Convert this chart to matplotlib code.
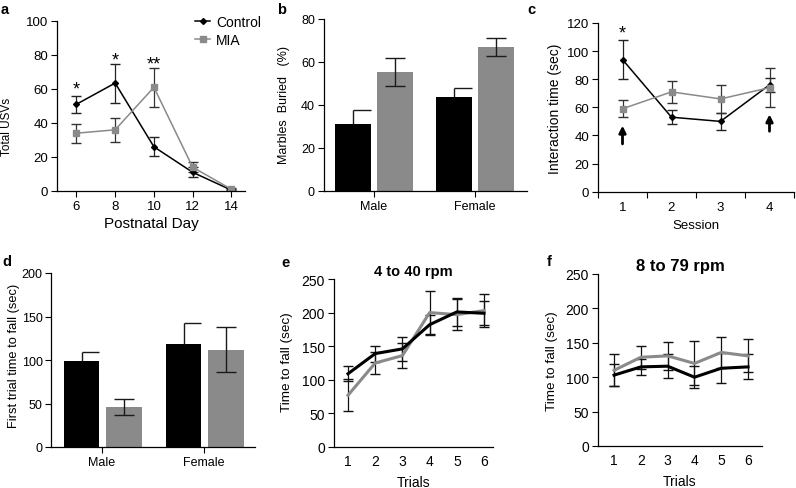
import numpy as np
import matplotlib.pyplot as plt
from matplotlib.lines import Line2D

# ---- data ----
# a: USVs
days = [6, 8, 10, 12, 14]
usv_ctrl = [51, 63.5, 26, 11, 0.5]
usv_ctrl_err = [5, 11.5, 5.5, 3, 0.5]
usv_mia = [34, 36, 61, 14, 1]
usv_mia_err = [5.5, 7, 11.5, 3, 0.5]

# b: marbles buried
sexes = ['Male', 'Female']
marb_ctrl = [31, 43.5]
marb_ctrl_err = [6.5, 4.5]
marb_mia = [55.5, 67]
marb_mia_err = [6.5, 4]

# c: social interaction
sessions = [1, 2, 3, 4]
inter_ctrl = [94, 53, 50, 76]
inter_ctrl_err = [14, 5, 6, 5]
inter_mia = [59, 71, 66, 74]
inter_mia_err = [6, 8, 10, 14]

# d: first trial time to fall
fall_ctrl = [99, 118]
fall_ctrl_err = [10, 25]
fall_mia = [46, 112]
fall_mia_err = [9, 26]

# e: rotarod 4-40 rpm
trials = [1, 2, 3, 4, 5, 6]
rr40_ctrl = [109, 139, 146, 182, 201, 199]
rr40_ctrl_err = [11, 12, 18, 15, 21, 18]
rr40_mia = [77, 125, 136, 200, 197, 203]
rr40_mia_err = [24, 17, 19, 32, 23, 24]

# f: rotarod 8-79 rpm
rr79_ctrl = [103, 115, 116, 100, 113, 115]
rr79_ctrl_err = [16, 12, 17, 16, 22, 18]
rr79_mia = [110, 129, 131, 120, 136, 131]
rr79_mia_err = [23, 17, 20, 32, 22, 24]

plt.rcParams['font.family'] = ['Liberation Sans', 'DejaVu Sans']
plt.rcParams['axes.linewidth'] = 0.9

GREY = '#8a8a8a'
W, H = 796.0, 489.0
fig = plt.figure(figsize=(W / 100, H / 100), dpi=100)


def style(ax, fs=9.5):
    ax.spines['top'].set_visible(False)
    ax.spines['right'].set_visible(False)
    ax.tick_params(direction='out', length=4, width=0.8, labelsize=fs, pad=2.5)


def box(l, r, t, b):
    return [l / W, 1 - b / H, (r - l) / W, (b - t) / H]


def bars(ax, ctrl, ctrl_err, mia, mia_err, dx_c, dx_m, w):
    xb = np.arange(len(ctrl))
    ax.bar(xb + dx_c, ctrl, w, color='black')
    ax.bar(xb + dx_m, mia, w, color=GREY, yerr=mia_err,
           error_kw=dict(ecolor='#1a1a1a', elinewidth=1.0, capsize=7, capthick=1.0))
    # control error bars: upper whisker with a half cap, as in the original
    tops = np.array(ctrl) + np.array(ctrl_err)
    ax.vlines(xb + dx_c, ctrl, tops, color='#1a1a1a', lw=1.0)
    ax.hlines(tops, xb + dx_c, xb + dx_c + w / 2, color='#1a1a1a', lw=1.0)
    ax.set_xticks(xb)
    ax.set_xticklabels(sexes)


# ---- a ----
ax = fig.add_axes(box(57, 245, 22, 192))
style(ax)
ax.errorbar(days, usv_ctrl, yerr=usv_ctrl_err, color='black', marker='D', ms=3,
            lw=1.1, ecolor='#222222', elinewidth=0.9, capsize=3.5)
ax.errorbar(days, usv_mia, yerr=usv_mia_err, color=GREY, marker='s', ms=4.5,
            lw=1.1, ecolor='#333333', elinewidth=0.9, capsize=3.5)
ax.set_xlim(5, 14.7)
ax.set_ylim(0, 100)
ax.set_xticks(days)
ax.set_yticks([0, 20, 40, 60, 80, 100])
ax.set_xlabel('Postnatal Day', labelpad=3, fontsize=11)
ax.set_ylabel('Total USVs', fontsize=8.5)
ax.yaxis.set_label_coords(-0.234, 0.38)
for x, y, s in [(6, 60, '*'), (8, 77, '*'), (10, 75, '**')]:
    ax.text(x, y, s, ha='center', va='center', fontsize=13)
handles = [Line2D([], [], color='black', marker='D', ms=3, lw=1.1),
           Line2D([], [], color=GREY, marker='s', ms=4.5, lw=1.1)]
fig.legend(handles, ['Control', 'MIA'], loc='upper left',
           bbox_to_anchor=(188 / W, 1 - 9 / H), bbox_transform=fig.transFigure,
           frameon=False, handlelength=1.1, handletextpad=0.4, labelspacing=0.3,
           fontsize=10, borderpad=0)

# ---- b ----
ax = fig.add_axes(box(324, 527, 20, 192))
style(ax, 9)
bars(ax, marb_ctrl, marb_ctrl_err, marb_mia, marb_mia_err, -0.205, 0.205, 0.355)
ax.set_xlim(-0.495, 1.515)
ax.set_ylim(0, 80)
ax.set_yticks([0, 20, 40, 60, 80])
ax.set_ylabel('Marbles  Buried   (%)', fontsize=9)
ax.yaxis.set_label_coords(-0.167, 0.506)

# ---- c ----
ax = fig.add_axes(box(598, 794, 24, 192.7))
style(ax)
ax.errorbar(sessions, inter_ctrl, yerr=inter_ctrl_err, color='black', marker='D', ms=3,
            lw=1.1, ecolor='#222222', elinewidth=0.9, capsize=3.5)
ax.errorbar(sessions, inter_mia, yerr=inter_mia_err, color=GREY, marker='s', ms=4.5,
            lw=1.1, ecolor='#333333', elinewidth=0.9, capsize=3.5)
ax.set_xlim(0.5, 4.5)
ax.set_ylim(0, 120)
ax.set_xticks(sessions)
ax.set_xticks([0.5, 1.5, 2.5, 3.5, 4.5], minor=True)
ax.tick_params(axis='x', which='major', length=0, pad=7)
ax.tick_params(axis='x', which='minor', direction='out', length=4, width=0.8)
ax.set_yticks(range(0, 121, 20))
ax.set_xlabel('Session', labelpad=4, fontsize=9.5)
ax.set_ylabel('Interaction time (sec)', fontsize=10)
ax.yaxis.set_label_coords(-0.184, 0.5)
ax.text(1, 113, '*', ha='center', va='center', fontsize=13)
for x, y0, y1 in [(1, 34, 47), (4, 43, 55)]:
    ax.annotate('', xy=(x, y1), xytext=(x, y0),
                arrowprops=dict(arrowstyle='-|>', color='black', lw=2.0,
                                mutation_scale=10, shrinkA=0, shrinkB=0))

# ---- d ----
ax = fig.add_axes(box(51, 255, 274, 448))
style(ax, 9)
ax.tick_params(axis='y', pad=2)
bars(ax, fall_ctrl, fall_ctrl_err, fall_mia, fall_mia_err, -0.2, 0.215, 0.35)
ax.set_xlim(-0.5, 1.5)
ax.set_ylim(0, 200)
ax.set_yticks([0, 50, 100, 150, 200])
ax.set_ylabel('First trial time to fall (sec)', fontsize=9.3)
ax.yaxis.set_label_coords(-0.15, 0.53)


def rotarod(ax, ctrl, ctrl_err, mia, mia_err, title, xlim, tfs):
    style(ax, 10)
    ax.errorbar(trials, mia, yerr=mia_err, color=GREY, lw=2.2,
                ecolor='#111111', elinewidth=0.9, capsize=3.5)
    ax.errorbar(trials, ctrl, yerr=ctrl_err, color='black', lw=2.2,
                ecolor='#111111', elinewidth=0.9, capsize=3.5)
    ax.set_xlim(*xlim)
    ax.set_ylim(0, 250)
    ax.set_xticks(trials)
    ax.tick_params(axis='x', length=0, pad=5)
    ax.set_yticks([0, 50, 100, 150, 200, 250])
    ax.set_xlabel('Trials', labelpad=5, fontsize=10)
    ax.set_ylabel('Time to fall (sec)', fontsize=9.7)
    ax.set_title(title, fontsize=tfs, fontweight='bold', pad=3)


# ---- e ----
ax = fig.add_axes(box(334, 493, 280, 448))
rotarod(ax, rr40_ctrl, rr40_ctrl_err, rr40_mia, rr40_mia_err, '4 to 40 rpm', (0.485, 6.33), 10.5)
ax.yaxis.set_label_coords(-0.258, 0.51)

# ---- f ----
ax = fig.add_axes(box(598, 762, 275, 447))
rotarod(ax, rr79_ctrl, rr79_ctrl_err, rr79_mia, rr79_mia_err, '8 to 79 rpm', (0.40, 6.52), 12)
ax.yaxis.set_label_coords(-0.244, 0.50)

# panel letters
for x, y, s in [(1, 10, 'a'), (277, 10, 'b'), (527, 10, 'c'),
                (2, 262, 'd'), (281, 263, 'e'), (547, 262, 'f')]:
    fig.text(x / W, 1 - y / H, s, fontsize=10.5, fontweight='bold', va='center', ha='left')

fig.savefig('out.png', dpi=100)
